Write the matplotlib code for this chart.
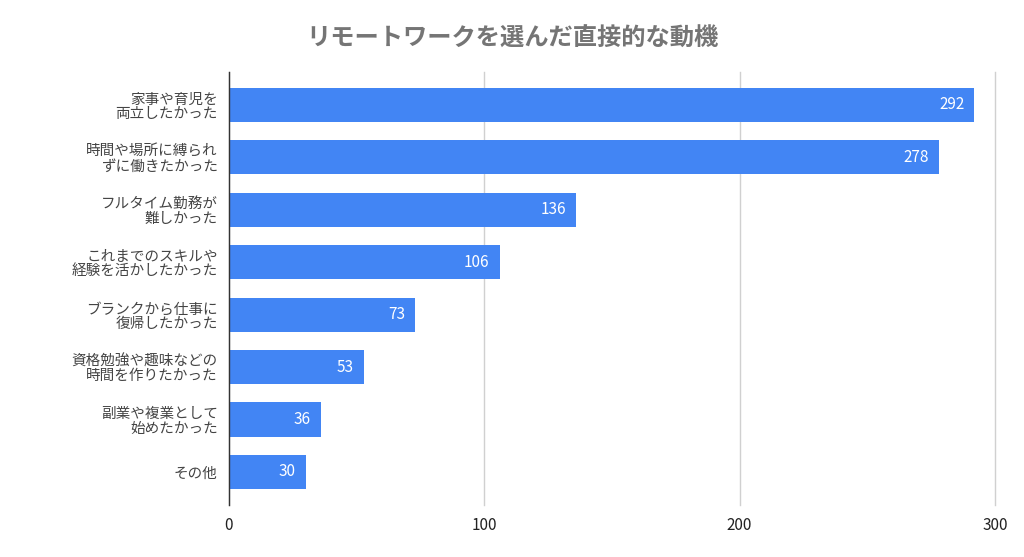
import matplotlib
matplotlib.use("Agg")
import matplotlib.pyplot as plt

plt.rcParams['font.family'] = ['Noto Sans CJK JP', 'DejaVu Sans']

# data
categories = [
    "家事や育児を\n両立したかった",
    "時間や場所に縛られ\nずに働きたかった",
    "フルタイム勤務が\n難しかった",
    "これまでのスキルや\n経験を活かしたかった",
    "ブランクから仕事に\n復帰したかった",
    "資格勉強や趣味などの\n時間を作りたかった",
    "副業や複業として\n始めたかった",
    "その他",
]
counts = [292, 278, 136, 106, 73, 53, 36, 30]
x_ticks = [0, 100, 200, 300]
title = "リモートワークを選んだ直接的な動機"

fig = plt.figure(figsize=(10.24, 5.57), dpi=100)
ax = fig.add_axes([0.2236, 0.0934, 0.748, 0.7774])

pos = list(range(len(categories)))
bars = ax.barh(pos, counts, height=0.65, color='#4285F4', zorder=3)

for b, v in zip(bars, counts):
    ax.text(b.get_width() - 4, b.get_y() + b.get_height() / 2, str(v),
            ha='right', va='center', color='white', fontsize=11, zorder=4)

ax.set_xlim(0, 300)
ax.set_ylim(len(categories) - 0.37, -0.63)
ax.set_yticks(pos)
ax.set_yticklabels(categories, fontsize=10.5, color='#444444', linespacing=1.05)
ax.set_xticks(x_ticks)
ax.set_xticklabels([str(t) for t in x_ticks], fontsize=11, color='#222222')

ax.tick_params(axis='both', length=0)
ax.tick_params(axis='y', pad=8)
ax.tick_params(axis='x', pad=9)
ax.grid(axis='x', color='#d0d0d0', linewidth=1, zorder=0)
ax.grid(axis='y', visible=False)
for gl in ax.get_xgridlines():
    gl.set_clip_on(False)
for s in ['top', 'right', 'bottom']:
    ax.spines[s].set_visible(False)
ax.spines['left'].set_color('#333333')
ax.spines['left'].set_linewidth(1)
ax.spines['left'].set_zorder(5)

fig.text(0.5, 0.93, title, ha='center', va='center', fontsize=17.5,
         fontweight='bold', color='#757575')

fig.savefig('out.png', dpi=100)
